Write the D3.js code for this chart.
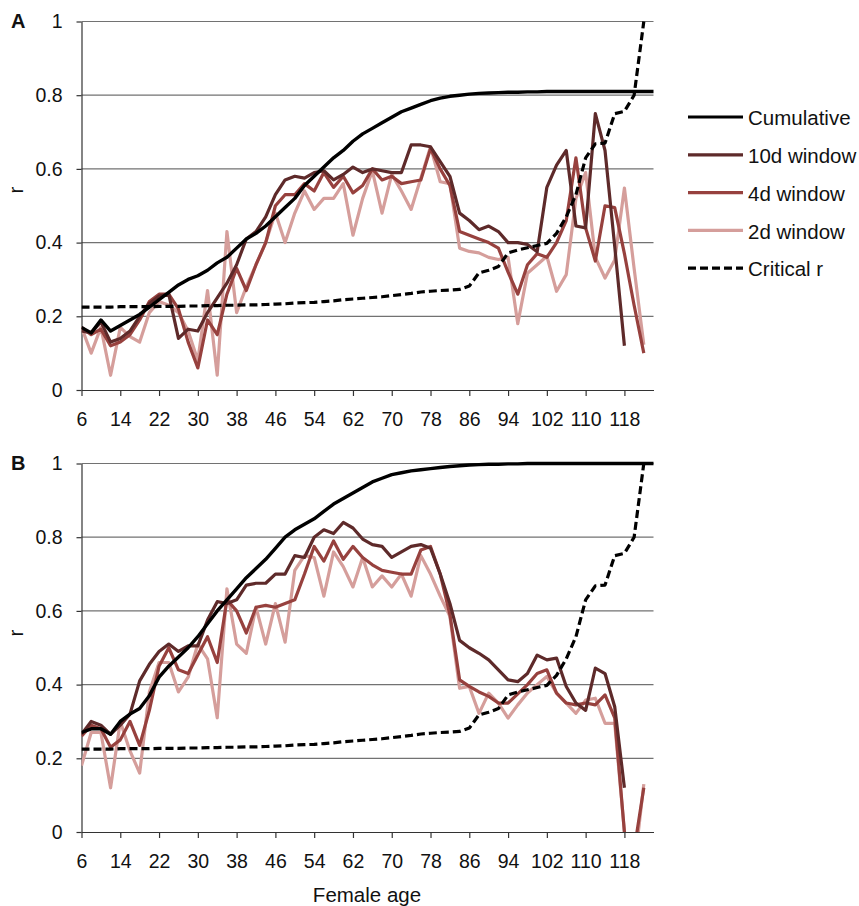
<!DOCTYPE html>
<html>
<head>
<meta charset="utf-8">
<script src="https://cdn.jsdelivr.net/npm/d3@7/dist/d3.min.js"></script>
<style>
  body { margin: 0; background: #fff; }
  svg { font-family: "Liberation Sans", Arial, sans-serif; }
  .grid line { stroke: #727272; stroke-width: 1.2; }
  .axis path, .axis line { stroke: #333; stroke-width: 1.2; }
  .axis text { font-size: 19.5px; fill: #111; font-family: "Liberation Sans", Arial, sans-serif; }
  .axis-title { font-size: 20.5px; fill: #111; }
  .panel-label { font-size: 20px; font-weight: bold; fill: #111; }
  .legend text { font-size: 20.5px; fill: #111; }
  .series { fill: none; stroke-linejoin: round; }
</style>
</head>
<body>
<div id="chart"></div>
<script>
// categories (female age, days)
const ages = [6, 8, 10, 12, 14, 16, 18, 20, 22, 24,
  26, 28, 30, 32, 34, 36, 38, 40, 42, 44,
  46, 48, 50, 52, 54, 56, 58, 60, 62, 64,
  66, 68, 70, 72, 74, 76, 78, 80, 82, 84,
  86, 88, 90, 92, 94, 96, 98, 100, 102, 104,
  106, 108, 110, 112, 114, 116, 118, 120, 122, 124];

const xTickValues = [6, 14, 22, 30, 38, 46, 54, 62, 70, 78, 86, 94, 102, 110, 118];
const yTickValues = [0, 0.2, 0.4, 0.6, 0.8, 1];
const yTickLabels = ['0', '0.2', '0.4', '0.6', '0.8', '1'];

const seriesNames = ['Cumulative', '10d window', '4d window', '2d window', 'Critical r'];
const seriesColors = ['#000000', '#5e2a2a', '#97413e', '#d59e9b', '#000000'];

// panel A
const cumulativeA = [.17, .155, .19, .16, .175, .19, .205, .225, .245, .265,
  .285, .30, .31, .325, .345, .36, .385, .41, .425, .445,
  .47, .495, .52, .555, .58, .605, .63, .65, .675, .695,
  .71, .725, .74, .755, .765, .775, .785, .792, .797, .80,
  .803, .805, .806, .807, .808, .808, .809, .809, .81, .81,
  .81, .81, .81, .81, .81, .81, .81, .81, .81, .81];
const win10A = [.16, .155, .185, .13, .14, .16, .20, .235, .255, .26,
  .14, .165, .16, .21, .25, .29, .34, .41, .43, .47,
  .53, .57, .58, .575, .59, .595, .57, .585, .605, .59,
  .60, .595, .59, .59, .665, .665, .66, .62, .58, .48,
  .46, .435, .445, .43, .40, .40, .395, .375, .55, .61,
  .65, .445, .44, .75, .65, .39, .12, null, null, null];
const win4A = [.17, .15, .165, .12, .13, .15, .19, .24, .26, .26,
  .22, .13, .06, .19, .15, .26, .33, .27, .34, .40,
  .50, .53, .53, .56, .54, .59, .55, .58, .535, .555,
  .60, .57, .58, .56, .565, .57, .655, .60, .555, .43,
  .42, .41, .40, .385, .32, .26, .34, .37, .36, .40,
  .46, .63, .44, .35, .50, .495, .37, .23, .10, null];
const win2A = [.17, .10, .17, .04, .17, .145, .13, .21, .24, .23,
  .21, .16, .08, .27, .04, .43, .21, .28, .34, .40,
  .48, .40, .48, .54, .49, .52, .52, .56, .42, .52,
  .595, .48, .585, .54, .49, .575, .66, .565, .56, .385,
  .376, .372, .36, .354, .36, .18, .317, .34, .363, .268,
  .313, .52, .59, .36, .304, .353, .548, .33, .123, null];

// panel B
const cumulativeB = [.27, .28, .28, .265, .30, .32, .335, .37, .42, .45,
  .475, .50, .53, .565, .60, .63, .66, .69, .715, .74,
  .77, .80, .82, .835, .85, .87, .89, .905, .92, .935,
  .95, .96, .97, .975, .98, .983, .986, .989, .992, .994,
  .996, .997, .998, .998, .999, .999, 1, 1, 1, 1,
  1, 1, 1, 1, 1, 1, 1, 1, 1, 1];
const win10B = [.265, .30, .29, .265, .29, .32, .41, .455, .49, .51,
  .49, .505, .505, .575, .625, .62, .63, .67, .675, .675,
  .70, .70, .75, .745, .80, .82, .81, .84, .825, .795,
  .78, .775, .745, .76, .775, .78, .77, .70, .62, .52,
  .50, .485, .467, .44, .413, .408, .43, .48, .467, .472,
  .395, .35, .33, .445, .43, .34, .12, null, null, null];
const win4B = [.26, .29, .28, .23, .25, .30, .235, .33, .45, .50,
  .44, .43, .48, .53, .46, .63, .60, .54, .61, .615,
  .61, .62, .63, .70, .775, .735, .79, .74, .775, .745,
  .725, .71, .705, .70, .70, .765, .775, .70, .59, .413,
  .395, .38, .368, .35, .35, .375, .40, .43, .44, .377,
  .35, .345, .35, .345, .372, .31, 0, -.05, .12, null];
const win2B = [.18, .27, .27, .12, .30, .22, .16, .38, .46, .46,
  .38, .42, .51, .47, .31, .66, .51, .485, .61, .51,
  .62, .515, .71, .75, .745, .64, .76, .72, .665, .745,
  .665, .695, .665, .70, .64, .75, .70, .64, .585, .39,
  .395, .322, .377, .35, .309, .345, .377, .40, .422, .377,
  .35, .322, .358, .363, .295, .295, 0, -.1, .13, null];

// critical r is the same for both panels
const criticalR = [.225, .225, .225, .225, .226, .226, .226, .226, .227, .227,
  .227, .228, .228, .229, .229, .230, .230, .231, .231, .232,
  .233, .234, .236, .237, .238, .240, .242, .245, .247, .249,
  .251, .253, .256, .259, .262, .266, .268, .270, .271, .273,
  .282, .318, .325, .335, .372, .38, .386, .392, .398, .425,
  .47, .53, .63, .668, .67, .75, .756, .80, 1.0, null];

class RPanel {

  constructor(_config, _series) {
    this.config = {
      svg: _config.svg,
      id: _config.id,
      label: _config.label,
      left: 81.5,
      top: _config.top,
      width: 572,
      height: 368.5,
      labelY: _config.labelY,
      rTitleY: _config.rTitleY
    }
    this.series = _series
    this.initVis();
  }

  initVis() {
    let vis = this;
    const c = vis.config;

    vis.xScale = d3.scaleLinear()
        .domain([6, 124])
        .range([0, c.width]);

    vis.yScale = d3.scaleLinear()
        .domain([0, 1])
        .range([c.height, 0]);

    vis.chart = c.svg.append('g')
        .attr('transform', `translate(${c.left},${c.top})`);

    vis.chart.append('clipPath')
        .attr('id', `clip-${c.id}`)
      .append('rect')
        .attr('x', 0)
        .attr('y', -5)
        .attr('width', c.width + 2)
        .attr('height', c.height + 5);

    vis.chart.append('g')
        .attr('class', 'grid')
      .selectAll('line')
      .data(yTickValues.filter(d => d > 0))
      .join('line')
        .attr('x1', 0)
        .attr('x2', c.width)
        .attr('y1', d => vis.yScale(d))
        .attr('y2', d => vis.yScale(d));

    vis.xAxis = d3.axisBottom(vis.xScale)
        .tickValues(xTickValues)
        .tickSize(6)
        .tickSizeOuter(0)
        .tickPadding(16)
        .tickFormat(d3.format('d'));

    vis.yAxis = d3.axisLeft(vis.yScale)
        .tickValues(yTickValues)
        .tickFormat((d, i) => yTickLabels[i])
        .tickSize(5)
        .tickSizeOuter(0)
        .tickPadding(14);

    vis.chart.append('g')
        .attr('class', 'axis x-axis')
        .attr('transform', `translate(0,${c.height})`)
        .call(vis.xAxis);

    vis.chart.append('g')
        .attr('class', 'axis y-axis')
        .call(vis.yAxis);

    c.svg.append('text')
        .attr('class', 'panel-label')
        .attr('x', 11)
        .attr('y', c.labelY)
        .text(c.label);

    c.svg.append('text')
        .attr('class', 'axis-title')
        .attr('transform', `translate(23,${c.rTitleY}) rotate(-90)`)
        .attr('text-anchor', 'middle')
        .text('r');

    vis.renderVis();
  }

  renderVis() {
    let vis = this;

    const line = d3.line()
        .defined(d => d.v !== null)
        .x(d => vis.xScale(d.age))
        .y(d => vis.yScale(d.v));

    const data = vis.series.map((values, i) => ({
      name: seriesNames[i],
      color: seriesColors[i],
      dashed: seriesNames[i] === 'Critical r',
      points: ages.map((age, j) => ({age: age, v: values[j]}))
    }));

    // draw order: windows first, then cumulative and critical on top
    const order = [3, 2, 1, 0, 4];

    vis.chart.append('g')
        .attr('clip-path', `url(#clip-${vis.config.id})`)
      .selectAll('.series')
      .data(order.map(i => data[i]))
      .join('path')
        .attr('class', 'series')
        .attr('stroke', d => d.color)
        .attr('stroke-width', d => d.name === 'Cumulative' ? 3.4 : 3.2)
        .attr('stroke-dasharray', d => d.dashed ? '8,4' : null)
        .attr('d', d => line(d.points));
  }
}

const svg = d3.select('#chart').append('svg')
    .attr('width', 859)
    .attr('height', 906);

new RPanel({svg: svg, id: 'a', label: 'A', top: 21.5, labelY: 28, rTitleY: 190},
    [cumulativeA, win10A, win4A, win2A, criticalR]);
new RPanel({svg: svg, id: 'b', label: 'B', top: 463.5, labelY: 470, rTitleY: 633},
    [cumulativeB, win10B, win4B, win2B, criticalR]);

svg.append('text')
    .attr('class', 'axis-title')
    .attr('x', 367)
    .attr('y', 902)
    .attr('text-anchor', 'middle')
    .text('Female age');

// legend
const legend = svg.append('g')
    .attr('class', 'legend')
    .attr('transform', 'translate(688,118)');

const legendRows = legend.selectAll('g')
    .data(seriesNames)
    .join('g')
    .attr('transform', (d, i) => `translate(0,${i * 37.8})`);

legendRows.append('line')
    .attr('x1', 0)
    .attr('x2', 55)
    .attr('y1', -1)
    .attr('y2', -1)
    .attr('stroke', (d, i) => seriesColors[i])
    .attr('stroke-width', 3.2)
    .attr('stroke-dasharray', d => d === 'Critical r' ? '8,4' : null);

legendRows.append('text')
    .attr('x', 60)
    .attr('y', 0)
    .attr('dy', '0.35em')
    .text(d => d);
</script>
</body>
</html>
